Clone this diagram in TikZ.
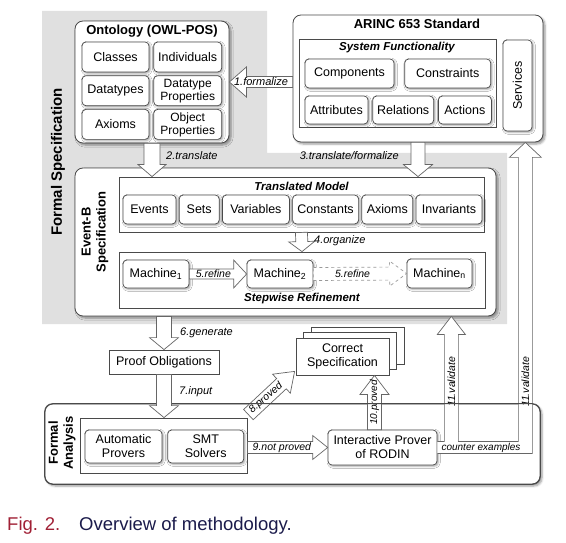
\documentclass[tikz,border=0pt]{standalone}
\usepackage{fontspec}
\usepackage{graphicx}
\usepackage{tikz}
\usetikzlibrary{positioning, calc, shadows, shadows.blur}
\setmainfont{Liberation Sans}
\definecolor{specgray}{HTML}{E0E0E0}
\definecolor{linegray}{HTML}{4A4A4A}
\definecolor{figred}{HTML}{A02035}
\definecolor{capnavy}{HTML}{1B1B4B}

% hollow block arrow: [options]{from}{to}{shaft half width}{head half width}{head length}
\newcommand{\blockarrow}[6][]{%
  \path ($(#3)!#6!(#2)$) coordinate (neck);
  \draw[hollow,#1] ($(#2)!#4!90:(#3)$) -- ($(neck)!#4!90:(#3)$) -- ($(neck)!#5!90:(#3)$) -- (#3)
    -- ($(neck)!#5!-90:(#3)$) -- ($(neck)!#4!-90:(#3)$) -- ($(#2)!#4!-90:(#3)$) -- cycle;
}

\begin{document}
\begin{tikzpicture}[x=1pt, y=-1pt,
  boxline/.style={draw=linegray, line width=0.8pt},
  outerbox/.style={boxline, fill=white, rounded corners=8pt, inner sep=0pt,
    blur shadow={shadow xshift=2pt, shadow yshift=-2pt, shadow blur steps=5}},
  frame/.style={boxline, fill=white, inner sep=0pt},
  plain/.style={boxline, fill=white, inner sep=1pt, align=center, font=\fontsize{12.5}{14}\selectfont},
  item/.style={draw=linegray, line width=0.7pt, fill=white, rounded corners=4pt, inner sep=1pt, align=center,
    font=\fontsize{12.5}{14}\selectfont,
    blur shadow={shadow xshift=1.2pt, shadow yshift=-1.2pt, shadow blur steps=3}},
  title/.style={font=\bfseries\fontsize{13}{15}\selectfont, inner sep=1pt},
  subtitle/.style={font=\bfseries\itshape\fontsize{11.5}{13}\selectfont, inner sep=1pt},
  steplabel/.style={font=\itshape\fontsize{11}{12}\selectfont, inner sep=1pt},
  hollow/.style={draw=black!60, line width=0.7pt, fill=white}]
\useasboundingbox (0,0) rectangle (566,543);

% grey band behind the formal specification part
\fill[specgray] (42,11) -- (267,11) -- (267,153) -- (507,153) -- (507,324) -- (42,324) -- cycle;
\node[font=\bfseries\fontsize{15}{17}\selectfont, rotate=90] (fst) at (58,162) {Formal Specification};

% ontology
\node[outerbox, minimum width=154pt, minimum height=122pt] (onto) at (152,82) {};
\node[title] (ontot) at (152,31) {Ontology (OWL-POS)};
\node[item, minimum width=67pt, minimum height=30pt] (cls) at (115.5,57) {Classes};
\node[item, minimum width=68pt, minimum height=30pt, right=4pt of cls] (ind) {Individuals};
\node[item, minimum width=67pt, minimum height=30pt, below=3pt of cls] (dtp) {Datatypes};
\node[item, minimum width=68pt, minimum height=30pt, right=4pt of dtp, font=\fontsize{12}{13}\selectfont] (dtprop) {Datatype\\Properties};
\node[item, minimum width=67pt, minimum height=30pt, below=3pt of dtp] (axo) {Axioms};
\node[item, minimum width=68pt, minimum height=30pt, right=4pt of axo, font=\fontsize{12}{13}\selectfont] (objprop) {Object\\Properties};

% ARINC 653
\node[outerbox, minimum width=250pt, minimum height=127pt] (arinc) at (418,78.5) {};
\node[title] (arinct) at (417,24) {ARINC 653 Standard};
\node[frame, minimum width=197pt, minimum height=88pt] (sysf) at (397.5,83) {};
\node[subtitle] (sysft) at (397,48) {System Functionality};
\node[item, minimum width=89pt, minimum height=29pt] (comp) at (349.5,73.5) {Components};
\node[item, minimum width=86pt, minimum height=29pt, right=10pt of comp] (cons) {Constraints};
\node[item, minimum width=63pt, minimum height=28pt] (attr) at (336.5,110) {Attributes};
\node[item, minimum width=61pt, minimum height=28pt, right=4pt of attr] (rel) {Relations};
\node[item, minimum width=53pt, minimum height=28pt, right=4pt of rel] (act) {Actions};
\node[item, minimum width=29pt, minimum height=91pt] (serv) at (517.5,85.5) {\rotatebox{90}{Services}};

% Event-B
\node[outerbox, minimum width=421pt, minimum height=148pt] (evb) at (285.5,242) {};
\node[title, align=center, rotate=90] (evbt) at (95,232) {Event-B\\Specification};
\node[frame, minimum width=365pt, minimum height=55pt] (tm) at (301.5,204.5) {};
\node[subtitle] (tmt) at (301.5,186) {Translated Model};
\node[item, minimum width=53pt, minimum height=29pt] (evt) at (149.5,209.5) {Events};
\node[item, minimum width=40pt, minimum height=29pt, right=2.5pt of evt] (sets) {Sets};
\node[item, minimum width=67pt, minimum height=29pt, right=2.5pt of sets] (vars) {Variables};
\node[item, minimum width=66pt, minimum height=29pt, right=2.5pt of vars] (csts) {Constants};
\node[item, minimum width=51pt, minimum height=29pt, right=2.5pt of csts] (axm) {Axioms};
\node[item, minimum width=66pt, minimum height=29pt, right=2.5pt of axm] (inv) {Invariants};
\node[frame, minimum width=366pt, minimum height=56pt] (sr) at (302,280) {};
\node[subtitle] (srt) at (302,299) {Stepwise Refinement};
\node[item, minimum width=66pt, minimum height=28pt] (m1) at (156,274) {Machine\textsubscript{1}};
\node[item, minimum width=66pt, minimum height=28pt] (m2) at (280,274) {Machine\textsubscript{2}};
\node[item, minimum width=65pt, minimum height=29pt] (mn) at (439.5,273.5) {Machine\textsubscript{n}};

% proof side
\node[plain, minimum width=110pt, minimum height=24pt] (po) at (164,362) {Proof Obligations};
\node[plain, minimum width=93pt, minimum height=37pt,
  copy shadow={shadow xshift=15pt, shadow yshift=11pt, draw=linegray, line width=0.8pt},
  copy shadow={shadow xshift=7.5pt, shadow yshift=5.5pt, draw=linegray, line width=0.8pt}] (cs) at (342.5,356.5) {Correct\\Specification};

% formal analysis
\node[outerbox, minimum width=495pt, minimum height=80pt] (fa) at (292.5,444) {};
\node[title, align=center, rotate=90] (fat) at (62,443) {Formal\\Analysis};
\node[frame, minimum width=167pt, minimum height=55pt] (fai) at (163.5,445.5) {};
\node[item, minimum width=77pt, minimum height=33pt] (ap) at (123.5,446.5) {Automatic\\Provers};
\node[item, minimum width=76pt, minimum height=33pt, right=5pt of ap] (smt) {SMT\\Solvers};
\node[item, minimum width=109pt, minimum height=35pt] (prover) at (382.5,447.5) {Interactive Prover\\of RODIN};

% steps
\blockarrow{arinc.west |- onto.east}{onto.east}{5.5pt}{15pt}{17pt}
\node[steplabel] (a1) at ($(onto.east)!0.5!(arinc.west |- onto.east)$) {1.formalize};
\blockarrow{onto.south}{onto.south |- tm.north}{8pt}{14pt}{12pt}
\node[steplabel, anchor=west] (a2) at (165,156) {2.translate};
\blockarrow{arinc.south}{arinc.south |- tm.north}{7pt}{14.5pt}{12pt}
\node[steplabel, anchor=east] (a3) at (400,156) {3.translate/formalize};
\blockarrow{tm.south}{sr.north}{6pt}{13pt}{10pt}
\node[steplabel, anchor=west] (a4) at (313,241) {4.organize};
\blockarrow{m1.east}{m2.west}{5pt}{14pt}{13pt}
\node[steplabel, font=\itshape\fontsize{10.5}{12}\selectfont] (a5) at ($(m1.east)!0.42!(m2.west)$) {5.refine};
\blockarrow[dashed, draw=black!40]{m2.east}{mn.west}{6.5pt}{12.5pt}{17pt}
\node[steplabel, font=\itshape\fontsize{10.5}{12}\selectfont] (a5b) at ($(m2.east)!0.42!(mn.west)$) {5.refine};
\blockarrow{po.north |- evb.south}{po.north}{7.5pt}{14.5pt}{12pt}
\node[steplabel, anchor=west] (a6) at (179,333) {6.generate};

\coordinate (p8s) at ($(fai.north east)+(1,-3)$);
\coordinate (p8t) at ($(cs.south west)+(-1,-4)$);
\blockarrow{p8s}{p8t}{7pt}{13pt}{18pt}
\node[steplabel, rotate=41, font=\itshape\fontsize{10.5}{12}\selectfont] (a8) at ($(p8s)!0.38!(p8t)$) {8.proved};
\blockarrow{fai.east |- prover.west}{prover.west}{6pt}{12pt}{15pt}
\node[steplabel, font=\itshape\fontsize{10.5}{12}\selectfont] (a9) at ($(fai.east |- prover.west)!0.43!(prover.west)$) {9.not proved};

\coordinate (p10) at ($(prover.north)+(-8,0)$);
\blockarrow{p10}{p10 |- cs.south}{7pt}{14.5pt}{19pt}
\node[steplabel, rotate=90, font=\itshape\fontsize{10}{11}\selectfont] (a10) at ($(p10)!0.5!(p10 |- cs.south)$) {10.proved};

% counter examples, back to both specifications
\coordinate (vl) at ($(prover.east)+(14,0)$);
\coordinate (vr) at ($(prover.east)+(88,0)$);
\draw[hollow] ($(prover.east)+(0,-6)$) -- ($(vl)+(-7,-6)$) -- ($(vl |- evb.south)+(-7,18)$)
  -- ($(vl |- evb.south)+(-14,18)$) -- (vl |- evb.south) -- ($(vl |- evb.south)+(14,18)$)
  -- ($(vl |- evb.south)+(7,18)$) -- ($(vl)+(7,-6)$) -- ($(vr)+(-7,-6)$)
  -- ($(vr |- arinc.south)+(-7,15)$) -- ($(vr |- arinc.south)+(-16,15)$) -- (vr |- arinc.south)
  -- ($(vr |- arinc.south)+(16,15)$) -- ($(vr |- arinc.south)+(7,15)$) -- ($(vr)+(7,6)$)
  -- ($(prover.east)+(0,6)$);
\node[steplabel, rotate=90, font=\itshape\fontsize{10.5}{12}\selectfont] (a11a) at ($(vl)!0.5!(vl |- evb.south)$) {11.validate};
\node[steplabel, rotate=90, font=\itshape\fontsize{10.5}{12}\selectfont] (a11b) at (a11a -| vr) {11.validate};
\node[steplabel, anchor=west, font=\itshape\fontsize{10}{11}\selectfont] (cex) at ($(prover.east)+(3,0)$) {counter examples};

\draw[boxline, rounded corners=8pt] (fa.north west) rectangle (fa.south east);
\blockarrow{po.south}{po.south |- fai.north}{7.5pt}{14.5pt}{12pt}
\node[steplabel, anchor=west] (a7) at (178,392) {7.input};

% caption
\node[font=\fontsize{18.5}{20}\selectfont, text=figred, anchor=base west, inner sep=0pt] (fig) at (7,530) {Fig. 2.};
\node[font=\fontsize{18.5}{20}\selectfont, text=capnavy, anchor=base west, inner sep=0pt] (cap) at (79,530) {Overview of methodology.};
\end{tikzpicture}
\end{document}
